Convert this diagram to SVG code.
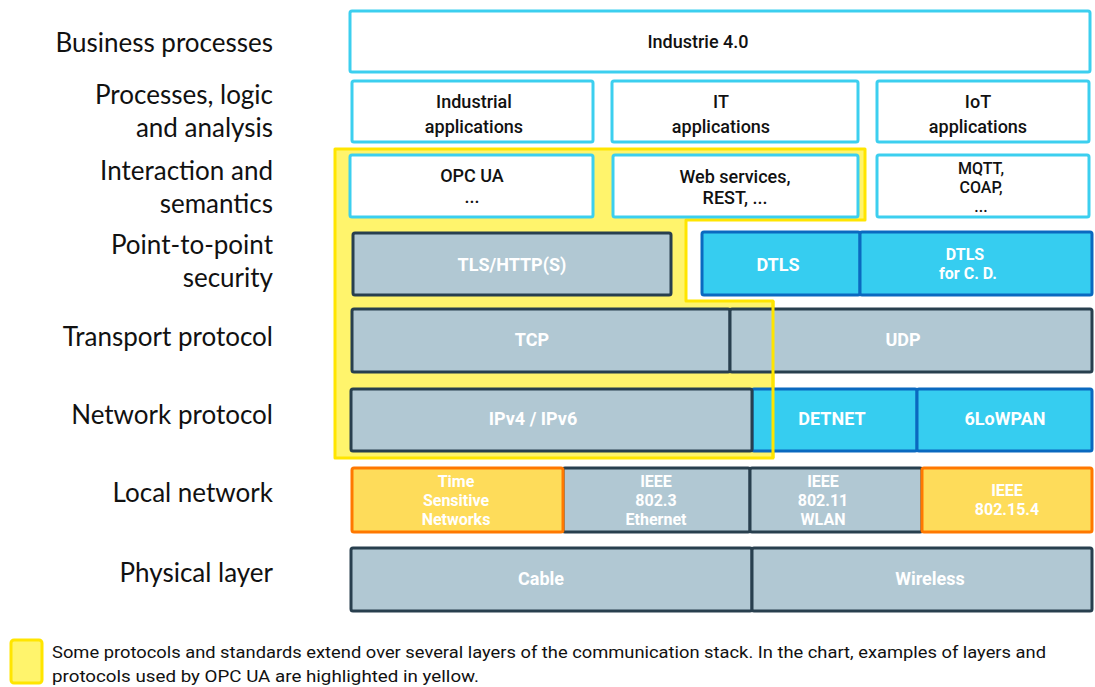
<svg xmlns="http://www.w3.org/2000/svg" width="1095" height="687" viewBox="0 0 1095 687">
<style>
.lbl{font-family:Lato,"Noto Sans",sans-serif;font-size:26px;fill:#111;text-anchor:end}
.w{fill:#fff;stroke:#3ccfef;stroke-width:3}
.g{fill:#b1c8d3;stroke:#283f4e;stroke-width:3}
.b{fill:#36cdf0;stroke:#0a69c0;stroke-width:3}
.o{fill:#fedc5a;stroke:#ff7800;stroke-width:3}
.t{font-family:Roboto,sans-serif;font-size:18px;text-anchor:middle;dominant-baseline:central}
.s{font-size:16px}
.dk{fill:#111;font-weight:500}
.wt{fill:#fff;font-weight:bold}
.leg{font-family:Roboto,sans-serif;font-size:17px;fill:#111}
</style>
<rect width="1095" height="687" fill="#fff"/>
<polygon id="highlight" points="335,149 865,149 865,220 686,220 686,301 773,301 773,458 335,458" fill="#fff46c" stroke="#ffe500" stroke-width="3" stroke-linejoin="round"/>
<g id="labels">
<text class="lbl" x="273" y="52">Business processes</text>
<text class="lbl" x="273" y="104">Processes, logic</text>
<text class="lbl" x="273" y="137">and analysis</text>
<text class="lbl" x="273" y="180">Interaction and</text>
<text class="lbl" x="273" y="213">semantics</text>
<text class="lbl" x="273" y="254">Point-to-point</text>
<text class="lbl" x="273" y="287">security</text>
<text class="lbl" x="273" y="346">Transport protocol</text>
<text class="lbl" x="273" y="424">Network protocol</text>
<text class="lbl" x="273" y="502">Local network</text>
<text class="lbl" x="273" y="582">Physical layer</text>
</g>
<g id="industrie"><rect class="w" x="350" y="11" width="740" height="61" rx="2"/><text class="t dk" x="698" y="41">Industrie 4.0</text></g>
<g id="industrial-apps"><rect class="w" x="352" y="81" width="241" height="61" rx="2"/><text class="t dk" x="474" y="101">Industrial</text><text class="t dk" x="474" y="126">applications</text></g>
<g id="it-apps"><rect class="w" x="612" y="81" width="246" height="61" rx="2"/><text class="t dk" x="721" y="101">IT</text><text class="t dk" x="721" y="126">applications</text></g>
<g id="iot-apps"><rect class="w" x="877" y="81" width="212" height="61" rx="2"/><text class="t dk" x="978" y="101">IoT</text><text class="t dk" x="978" y="126">applications</text></g>
<g id="opcua"><rect class="w" x="350" y="155" width="243" height="62" rx="2"/><text class="t dk" x="472" y="175">OPC UA</text><text class="t dk" x="472" y="196">...</text></g>
<g id="webservices"><rect class="w" x="613" y="155" width="245" height="62" rx="2"/><text class="t dk" x="735" y="176">Web services,</text><text class="t dk" x="735" y="197">REST, ...</text></g>
<g id="mqtt"><rect class="w" x="877" y="155" width="212" height="62" rx="2"/><text class="t s dk" x="981" y="168">MQTT,</text><text class="t s dk" x="981" y="187">COAP,</text><text class="t s dk" x="981" y="206">...</text></g>
<g id="tls"><rect class="g" x="353" y="233" width="318" height="62" rx="2"/><text class="t wt" x="512" y="264">TLS/HTTP(S)</text></g>
<g id="dtls"><rect class="b" x="702" y="232" width="158" height="63" rx="2"/><text class="t wt" x="778" y="264">DTLS</text></g>
<g id="dtls-cd"><rect class="b" x="860" y="232" width="232" height="63" rx="2"/><text class="t s wt" x="965" y="254">DTLS</text><text class="t s wt" x="968" y="273">for C. D.</text></g>
<g id="tcp"><rect class="g" x="352" y="309" width="378" height="63" rx="2"/><text class="t wt" x="532" y="339">TCP</text></g>
<g id="udp"><rect class="g" x="730" y="309" width="362" height="63" rx="2"/><text class="t wt" x="903" y="339">UDP</text></g>
<g id="detnet"><rect class="b" x="752" y="389" width="165" height="62" rx="2"/><text class="t wt" x="832" y="418">DETNET</text></g>
<g id="6lowpan"><rect class="b" x="917" y="389" width="175" height="62" rx="2"/><text class="t wt" x="1005" y="418">6LoWPAN</text></g>
<g id="ipv4"><rect class="g" x="351" y="389" width="401" height="62" rx="2"/><text class="t wt" x="533" y="418">IPv4 / IPv6</text></g>
<g id="eth"><rect class="g" x="563" y="468" width="187" height="64" rx="2"/><text class="t s wt" x="656" y="481">IEEE</text><text class="t s wt" x="656" y="500">802.3</text><text class="t s wt" x="656" y="519">Ethernet</text></g>
<g id="wlan"><rect class="g" x="750" y="468" width="172" height="64" rx="2"/><text class="t s wt" x="823" y="481">IEEE</text><text class="t s wt" x="823" y="500">802.11</text><text class="t s wt" x="823" y="519">WLAN</text></g>
<g id="tsn"><rect class="o" x="352" y="468" width="211" height="64" rx="2"/><text class="t s wt" x="456" y="481">Time</text><text class="t s wt" x="456" y="500">Sensitive</text><text class="t s wt" x="456" y="519">Networks</text></g>
<g id="ieee802154"><rect class="o" x="922" y="468" width="170" height="64" rx="2"/><text class="t s wt" x="1007" y="490">IEEE</text><text class="t s wt" x="1007" y="509">802.15.4</text></g>
<g id="cable"><rect class="g" x="351" y="548" width="401" height="63" rx="2"/><text class="t wt" x="541" y="578">Cable</text></g>
<g id="wireless"><rect class="g" x="752" y="548" width="340" height="63" rx="2"/><text class="t wt" x="930" y="578">Wireless</text></g>
<g id="connectors"><polyline points="773,301 773,458" fill="none" stroke="#ffe500" stroke-width="3"/></g>
<g id="legend">
<rect x="11" y="640" width="31" height="43" rx="3" fill="#fff46c" stroke="#ffe500" stroke-width="3"/>
<text class="leg" x="52" y="658" textLength="994" lengthAdjust="spacingAndGlyphs">Some protocols and standards extend over several layers of the communication stack. In the chart, examples of layers and</text>
<text class="leg" x="52" y="682" textLength="427" lengthAdjust="spacingAndGlyphs">protocols used by OPC UA are highlighted in yellow.</text>
</g>
</svg>
